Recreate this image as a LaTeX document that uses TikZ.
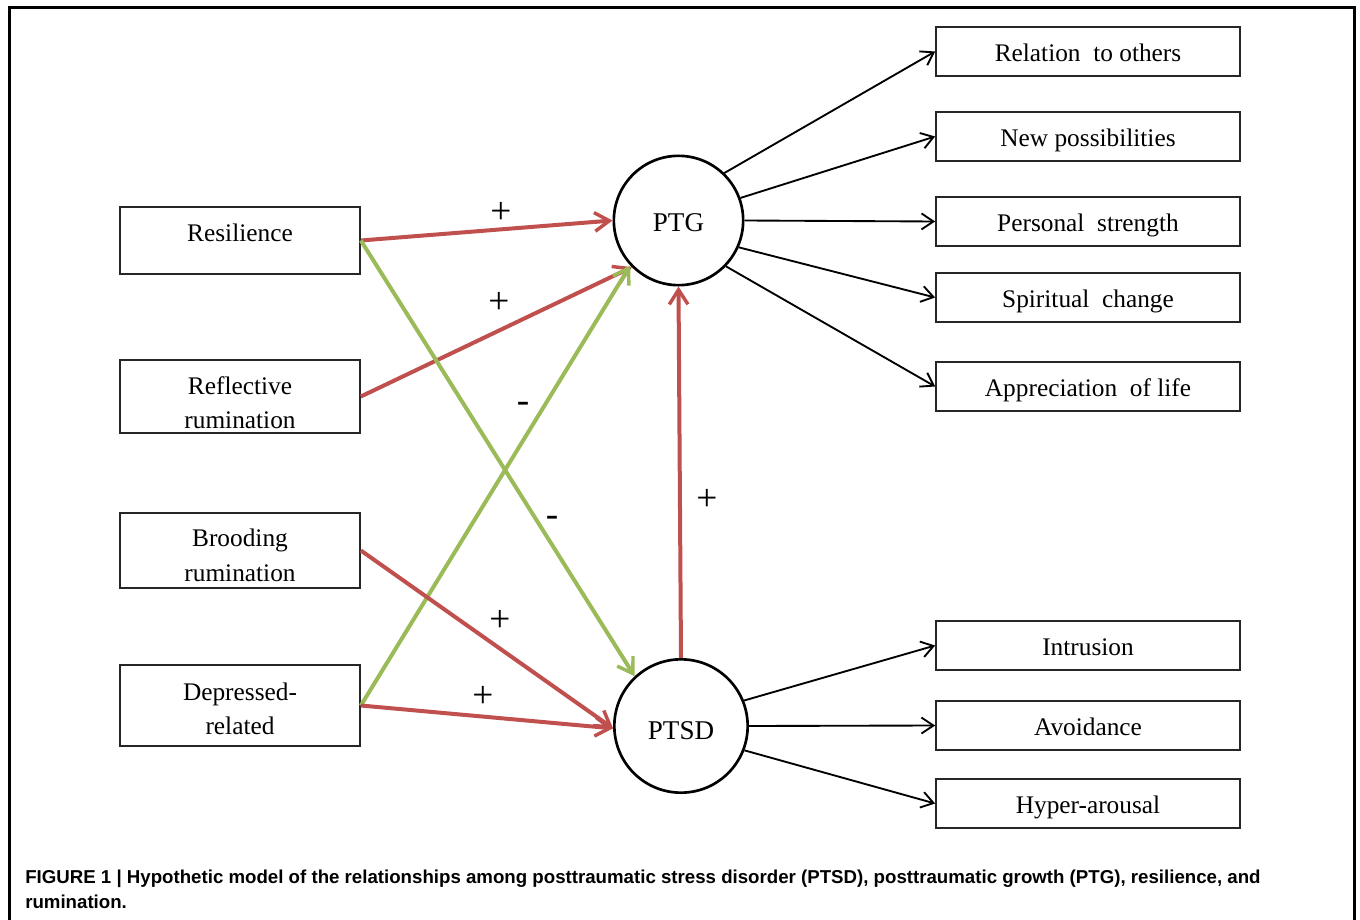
\documentclass[tikz,border=0pt]{standalone}
\usepackage{fontspec}
\setmainfont{Liberation Serif}
\newfontfamily\capfont{Liberation Sans}
\usetikzlibrary{arrows.meta}
\definecolor{pred}{HTML}{C0504D}
\definecolor{pgreen}{HTML}{9BBB59}
\newcommand\bxtext[2]{\raisebox{#1}[\height][\depth]{\begin{tabular}{@{}c@{}}#2\end{tabular}}}
\tikzset{
  box/.style={draw=black!85, line width=1.3pt, minimum width=180pt, inner sep=0pt,
    align=center, font=\fontsize{19}{26}\selectfont},
  rbox/.style={box, minimum width=228pt, minimum height=37pt},
  latent/.style={draw, circle, line width=2pt, inner sep=0pt, font=\fontsize{20.3}{22}\selectfont},
  redarr/.style={draw=pred, line width=3pt, -{Straight Barb[length=11pt,width=14pt,line width=2.6pt]}},
  greenarr/.style={draw=pgreen, line width=3pt, -{Straight Barb[length=11pt,width=14pt,line width=2.6pt]}},
  blackarr/.style={draw=black, line width=1.4pt, -{Straight Barb[length=9pt,width=12pt,line width=1.4pt]}},
  sign/.style={inner sep=0pt, font=\fontsize{28}{30}\selectfont},
  caption/.style={inner sep=0pt, anchor=base west, font=\capfont\bfseries\fontsize{14}{16}\selectfont}
}
\begin{document}
\begin{tikzpicture}[x=0.75pt,y=-0.75pt]
\useasboundingbox (0,0) rectangle (1360,920);
\draw[line width=2.25pt] (9,930) -- (9,8) -- (1354,8) -- (1354,930);

% left boxes
\node[box, minimum height=50pt] (res) at (240,240.5) {\bxtext{4.5pt}{Resilience}};
\node[box, minimum height=55pt] (ref) at (240,396.5) {\bxtext{-6pt}{Reflective\\rumination}};
\node[box, minimum height=56pt] (bro) at (240,550.5) {\bxtext{-4.9pt}{Brooding\\rumination}};
\node[box, minimum height=61pt] (dep) at (240,705.5) {\bxtext{-3.7pt}{Depressed-\\related}};

% circles
\node[latent, minimum size=97pt] (ptg) at (678.5,220.5) {\bxtext{-3.5pt}{PTG}};
\node[latent, minimum size=100pt] (ptsd) at (681,726) {\bxtext{-5.5pt}{PTSD}};

% right boxes
\node[rbox] (rel) at (1088,51.5) {\bxtext{-2.2pt}{Relation\ \ to others}};
\node[rbox] (new) at (1088,136.5) {\bxtext{-2.2pt}{New possibilities}};
\node[rbox] (per) at (1088,221.5) {\bxtext{-2.2pt}{Personal\ \ strength}};
\node[rbox] (spi) at (1088,297.5) {\bxtext{-2.2pt}{Spiritual\ \ change}};
\node[rbox] (app) at (1088,386.5) {\bxtext{-2.2pt}{Appreciation\ \ of life}};
\node[rbox] (int) at (1088,645.5) {\bxtext{-2.2pt}{Intrusion}};
\node[rbox] (avo) at (1088,725.5) {\bxtext{-2.2pt}{Avoidance}};
\node[rbox] (hyp) at (1088,803.5) {\bxtext{-2.2pt}{Hyper-arousal}};

% coloured paths
\draw[redarr] (res.east) -- (ptg.west);
\draw[redarr] (ref.east) -- (ptg.225);
\draw[greenarr] (res.east) -- (ptsd.133);
\draw[greenarr] (dep.east) -- (ptg.223);
\draw[redarr] (bro.east) -- (ptsd.182);
\draw[redarr] (dep.east) -- (ptsd.182);
\draw[redarr] (ptsd.north) -- (ptg.south);

% signs
\node[sign] (s1) at (501,213) {+};
\node[sign] (s2) at (499,303) {+};
\node[sign] (s3) at (523,407) {-};
\node[sign] (s4) at (552,521) {-};
\node[sign] (s5) at (500,621) {+};
\node[sign] (s6) at (483,697) {+};
\node[sign] (s7) at (707,500) {+};

% black paths
\draw[blackarr] (ptg.46) -- (rel.west);
\draw[blackarr] (ptg.20) -- (new.west);
\draw[blackarr] (ptg.east) -- (per.west);
\draw[blackarr] (ptg.-24) -- (spi.west);
\draw[blackarr] (ptg.-44) -- (app.west);
\draw[blackarr] (ptsd.22) -- (int.west);
\draw[blackarr] (ptsd.east) -- (avo.west);
\draw[blackarr] (ptsd.-21) -- (hyp.west);

% caption
\node[caption] (cap1) at (25,883) {FIGURE 1 | Hypothetic model of the relationships among posttraumatic stress disorder (PTSD), posttraumatic growth (PTG), resilience, and};
\node[caption] (cap2) at (25,908) {rumination.};
\end{tikzpicture}
\end{document}
